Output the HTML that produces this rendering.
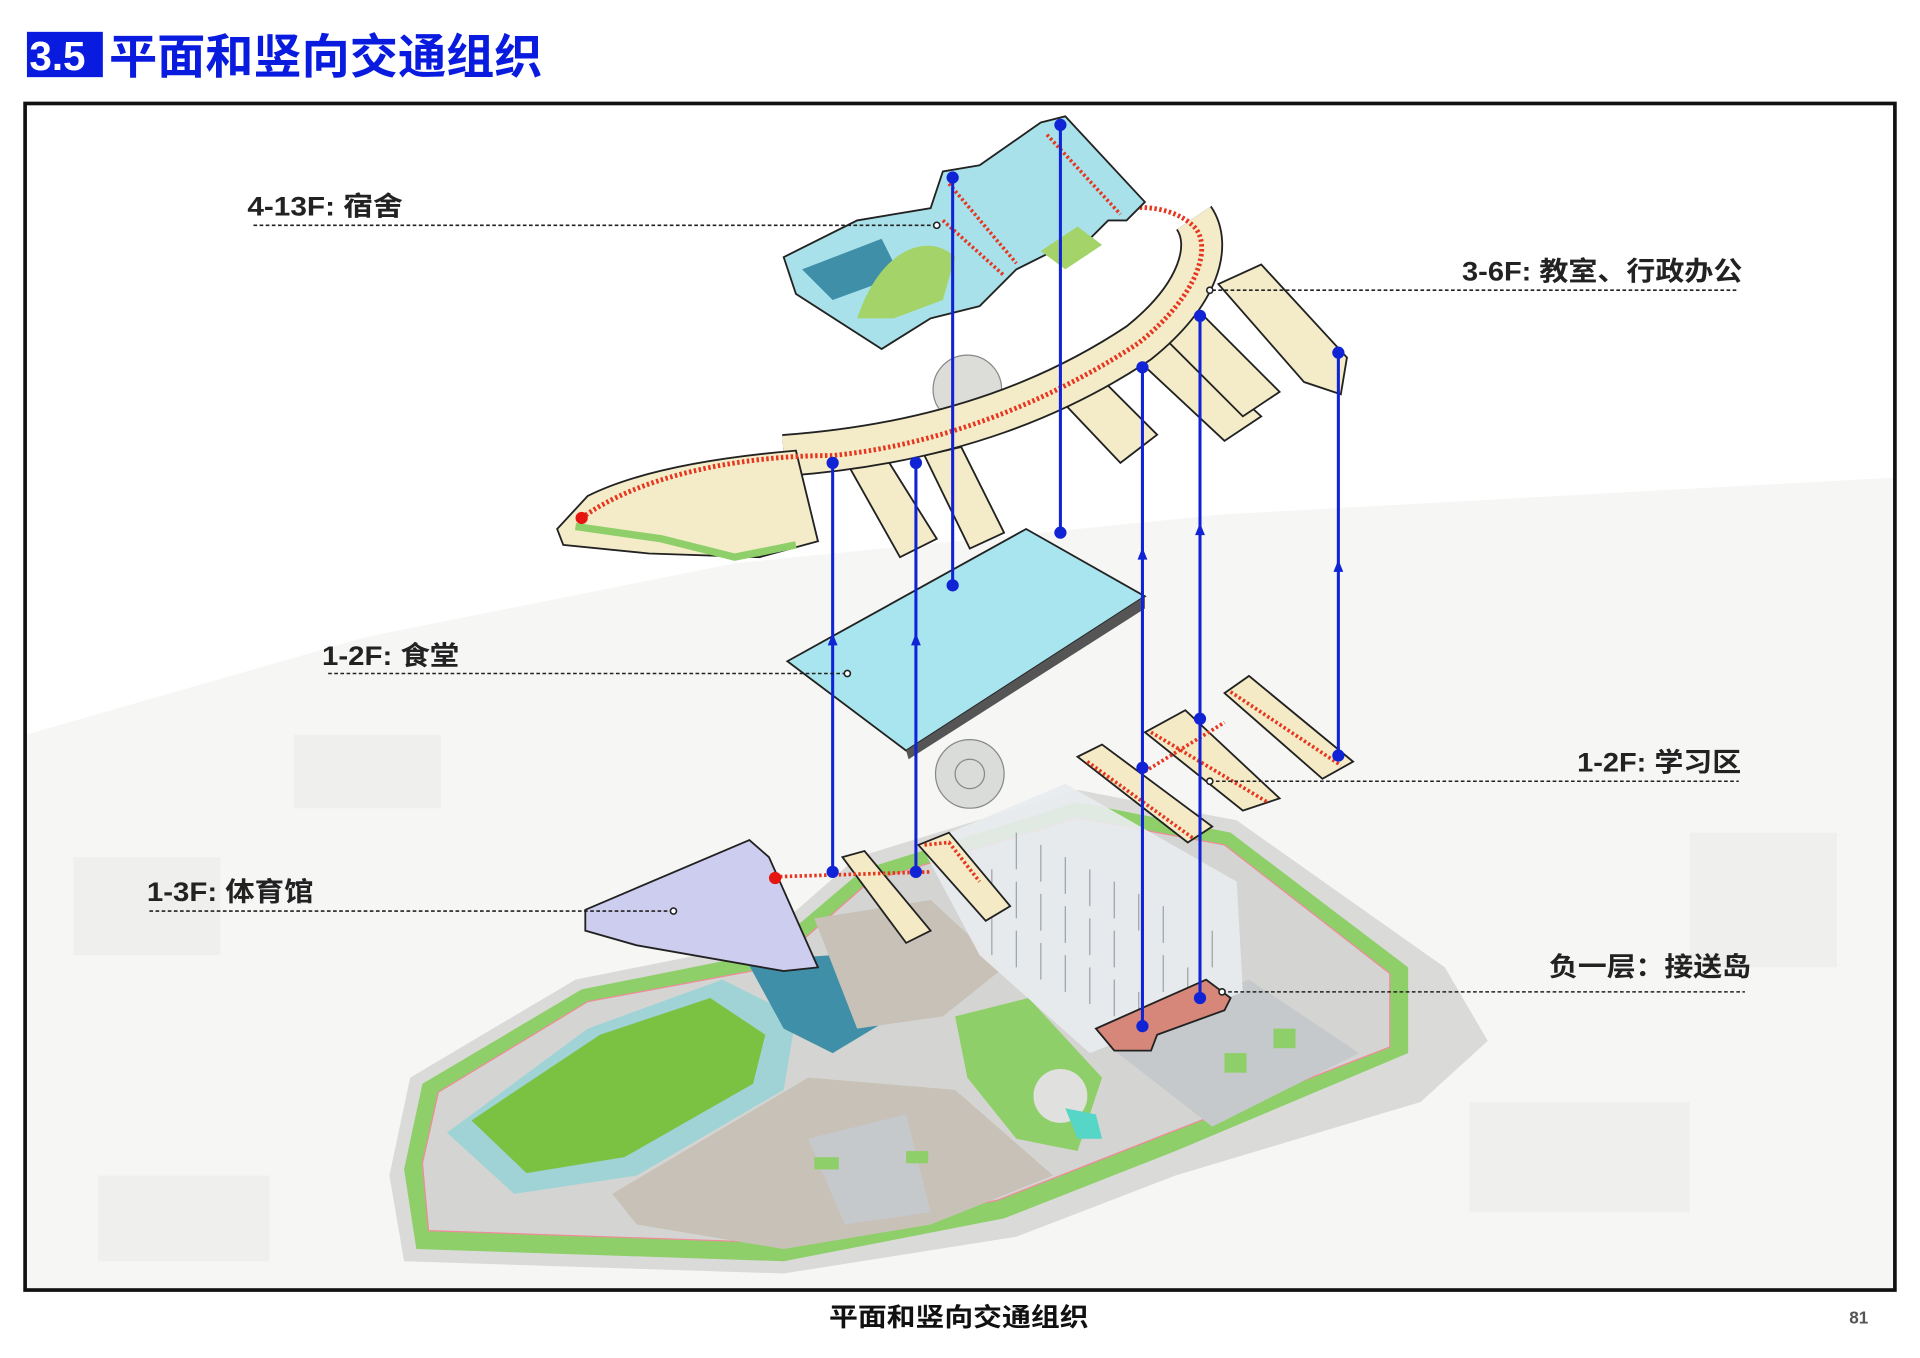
<!DOCTYPE html>
<html><head><meta charset="utf-8"><style>
html,body{margin:0;padding:0;background:#fff;}
svg{display:block;}
text{font-family:"Liberation Sans","Noto Sans CJK SC",sans-serif;font-weight:bold;}
</style></head><body>
<svg width="1920" height="1358" viewBox="0 0 1568 1109" preserveAspectRatio="none" xmlns="http://www.w3.org/2000/svg">
<rect width="1568" height="1109" fill="#fff"/>
<rect x="22" y="26" width="62" height="37" fill="#0a1be0"/>
<text x="24" y="57" font-size="33" fill="#fff">3.5</text>
<text x="89" y="60" font-size="39" fill="#0a1be0" font-family="Noto Sans CJK SC, sans-serif" textLength="354" lengthAdjust="spacingAndGlyphs">平面和竖向交通组织</text>
<rect x="21" y="85" width="1526" height="968" fill="#ffffff"/>
<path d="M21 600 L300 520 L600 460 L1000 420 L1547 390 L1547 1053 L21 1053Z" fill="#f6f6f5"/>
<g fill="#efefee">
<rect x="60" y="700" width="120" height="80"/><rect x="80" y="960" width="140" height="70"/><rect x="1200" y="900" width="180" height="90"/><rect x="1380" y="680" width="120" height="110"/><rect x="240" y="600" width="120" height="60"/>
</g>
<path d="M318 960 L335 880 L470 800 L620 770 L700 700 L880 645 L1010 670 L1180 790 L1215 850 L1160 900 L960 960 L830 1010 L640 1040 L330 1030Z" fill="#dadbd9"/>
<path d="M330 955 L345 885 L475 808 L625 778 L705 710 L880 655 L1005 680 L1150 790 L1150 860 L960 940 L820 995 L640 1030 L340 1020Z" fill="#8fcf6a"/>
<path d="M345 950 L358 892 L480 818 L630 790 L710 720 L880 668 L1000 690 L1135 795 L1135 855 L955 925 L815 980 L640 1015 L350 1005Z" fill="#d4d5d2" stroke="#f08a9a" stroke-width="1"/>
<path d="M365 925 L480 840 L590 800 L650 830 L640 890 L520 960 L420 975Z" fill="#9fd3d6"/>
<path d="M385 915 L490 845 L580 815 L625 845 L615 885 L510 945 L430 958Z" fill="#7cc242"/>
<path d="M610 785 L680 780 L730 830 L680 860 L640 840Z" fill="#3f8fa8"/>
<path d="M500 975 L660 880 L780 890 L860 960 L760 1000 L640 1020 L520 1000Z" fill="#c8c1b8"/>
<path d="M665 750 L760 735 L820 790 L770 830 L700 840Z" fill="#c8c1b8"/>
<path d="M780 830 L840 815 L900 880 L880 940 L830 930 L790 880Z" fill="#8fcf6a"/>
<circle cx="866" cy="895" r="22" fill="#e0e0de"/>
<path d="M870 905 L895 910 L900 930 L880 930Z" fill="#55d6c6"/>
<path d="M900 850 L1020 800 L1110 860 L990 920Z" fill="#c6c9cc"/>
<path d="M660 930 L740 910 L760 990 L690 1000Z" fill="#c6c9cc"/>
<g fill="#8fcf6a"><rect x="665" y="945" width="20" height="10"/><rect x="740" y="940" width="18" height="10"/><rect x="1000" y="860" width="18" height="16"/><rect x="1040" y="840" width="18" height="16"/></g>
<path d="M752 690 L870 640 L1010 720 L1015 810 L890 860 L800 780Z" fill="#e9ecef" opacity=".9"/>
<g stroke="#9aa3aa" stroke-width="1">
<path d="M790 700v30M810 710v30M830 720v30M850 730v30M870 740v30M890 750v30M910 760v30M830 680v30M850 690v30M870 700v30M890 710v30M910 720v30M930 730v30M950 740v30M810 750v30M830 760v30M850 770v30M870 780v30M890 790v30M910 800v30M930 810v30M950 780v30M970 790v30M990 760v30"/>
</g>
<path d="M895 840 L985 800 L1005 815 L1000 825 L945 845 L940 858 L910 858Z" fill="#d6877a" stroke="#222" stroke-width="1.5"/>
<path d="M478 743 L612 686 L628 700 L668 790 L640 793 L520 772 L478 760Z" fill="#cdcdf0" stroke="#222" stroke-width="1.5"/>
<g fill="#f4eac5" stroke="#222" stroke-width="1.5">
<path d="M688 700 L706 695 L760 760 L740 770Z"/>
<path d="M750 690 L775 680 L825 740 L805 752Z"/>
<path d="M880 618 L900 608 L990 675 L970 688Z"/>
<path d="M935 598 L968 580 L1045 652 L1015 662Z"/>
<path d="M1000 566 L1020 552 L1105 622 L1080 636Z"/>
</g>
<g stroke="#e6361f" stroke-width="3" stroke-dasharray="2 2" fill="none">
<path d="M633 716 L760 712"/><path d="M755 690 L775 688 L800 720"/>
<path d="M888 622 L975 685"/><path d="M940 598 L1035 655"/><path d="M1005 565 L1095 625"/><path d="M935 630 L1000 590"/>
</g>
<circle cx="633" cy="717" r="5" fill="#e6150f"/>
<circle cx="792" cy="632" r="28" fill="#d9dcd8" stroke="#888"/><circle cx="792" cy="632" r="12" fill="none" stroke="#888"/>
<path d="M643 540 L838 432 L935 487 L740 613Z" fill="#a9e5ef" stroke="#222" stroke-width="1.5"/>
<path d="M740 613 L935 487 L935 497 L742 620Z" fill="#555"/>
<!-- classrooms -->
<circle cx="790" cy="318" r="28" fill="#dcdcd8" stroke="#888"/>
<g fill="#f4ecc8" stroke="#222" stroke-width="1.5">
<path d="M690 375 L720 368 L765 440 L735 455Z"/>
<path d="M755 372 L785 365 L820 435 L792 448Z"/>
<path d="M860 320 L890 300 L945 355 L915 378Z"/>
<path d="M925 290 L955 272 L1030 340 L1000 360Z"/>
<path d="M940 265 L975 250 L1045 320 L1015 340Z"/>
<path d="M995 232 L1030 216 L1100 292 L1095 322 L1065 312Z"/>
</g>
<path d="M640 372 C780 362 870 320 930 280 C980 240 990 200 975 178" fill="none" stroke="#222" stroke-width="35"/>
<path d="M640 372 C780 362 870 320 930 280 C980 240 990 200 975 178" fill="none" stroke="#f4ecc8" stroke-width="32"/>
<path d="M455 432 L480 405 C520 385 580 374 650 368 L668 442 L620 455 L530 452 L460 445Z" fill="#f4ecc8" stroke="#222" stroke-width="1.5"/>
<path d="M470 430 L540 440 L600 455 L650 445" fill="none" stroke="#8fcf6a" stroke-width="6"/>
<path d="M475 423 C520 390 600 372 680 372 C780 362 870 320 930 280 C980 240 990 200 975 185 C960 170 935 168 920 170" fill="none" stroke="#e6361f" stroke-width="4" stroke-dasharray="2 2"/>
<circle cx="475" cy="423" r="5" fill="#e6150f"/>
<!-- dorm -->
<path d="M640 210 L700 180 L760 170 L770 140 L800 135 L850 100 L870 95 L935 165 L920 180 L905 180 L890 195 L860 205 L830 220 L800 250 L760 260 L720 285 L650 240Z" fill="#a9e1ea" stroke="#222" stroke-width="1.5"/>
<path d="M655 220 L720 195 L735 225 L680 245Z" fill="#3f8fa8"/>
<path d="M700 260 C720 200 760 190 780 210 L770 245 L730 260Z" fill="#a4d36a"/>
<path d="M850 205 L880 185 L900 200 L870 220Z" fill="#a4d36a"/>
<g stroke="#e6361f" stroke-width="3" stroke-dasharray="2 2" fill="none"><path d="M775 150 L830 215"/><path d="M855 110 L915 175"/><path d="M770 180 L820 225"/></g>
<g stroke="#1024d6" stroke-width="2.5">
<line x1="680" y1="378" x2="680" y2="712"/><line x1="748" y1="378" x2="748" y2="712"/>
<line x1="778" y1="145" x2="778" y2="478"/><line x1="866" y1="102" x2="866" y2="435"/>
<line x1="933" y1="300" x2="933" y2="838"/><line x1="980" y1="258" x2="980" y2="815"/>
<line x1="1093" y1="288" x2="1093" y2="617"/>
</g>
<g fill="#1024d6">
<circle cx="680" cy="378" r="5"/><circle cx="680" cy="712" r="5"/><circle cx="748" cy="378" r="5"/><circle cx="748" cy="712" r="5"/>
<circle cx="778" cy="145" r="5"/><circle cx="778" cy="478" r="5"/><circle cx="866" cy="102" r="5"/><circle cx="866" cy="435" r="5"/>
<circle cx="933" cy="300" r="5"/><circle cx="933" cy="838" r="5"/><circle cx="980" cy="258" r="5"/><circle cx="980" cy="815" r="5"/>
<circle cx="1093" cy="288" r="5"/><circle cx="1093" cy="617" r="5"/><circle cx="933" cy="627" r="5"/><circle cx="980" cy="587" r="5"/>
<path d="M680 517 l-4 10 h8z"/><path d="M748 517 l-4 10 h8z"/><path d="M933 447 l-4 10 h8z"/><path d="M980 427 l-4 10 h8z"/><path d="M1093 457 l-4 10 h8z"/>
</g>
<g stroke="#222" stroke-width="1.3" stroke-dasharray="3 2" fill="none">
<line x1="207" y1="184" x2="762" y2="184"/><line x1="990" y1="237" x2="1420" y2="237"/>
<line x1="268" y1="550" x2="690" y2="550"/><line x1="988" y1="638" x2="1420" y2="638"/>
<line x1="122" y1="744" x2="548" y2="744"/><line x1="998" y1="810" x2="1425" y2="810"/>
</g>
<g fill="#fff" stroke="#222" stroke-width="1.3"><circle cx="765" cy="184" r="2.5"/><circle cx="988" cy="237" r="2.5"/><circle cx="692" cy="550" r="2.5"/><circle cx="988" cy="638" r="2.5"/><circle cx="550" cy="744" r="2.5"/><circle cx="998" cy="810" r="2.5"/></g>
<g font-size="22" fill="#222">
<text x="202" y="176" textLength="127" lengthAdjust="spacingAndGlyphs">4-13F: 宿舍</text>
<text x="1194" y="229" textLength="229" lengthAdjust="spacingAndGlyphs">3-6F: 教室、行政办公</text>
<text x="263" y="543" textLength="112" lengthAdjust="spacingAndGlyphs">1-2F: 食堂</text>
<text x="1288" y="630" textLength="134" lengthAdjust="spacingAndGlyphs">1-2F: 学习区</text>
<text x="120" y="736" textLength="136" lengthAdjust="spacingAndGlyphs">1-3F: 体育馆</text>
<text x="1265" y="797" textLength="165" lengthAdjust="spacingAndGlyphs">负一层：接送岛</text>
</g>
<rect x="20.5" y="84.5" width="1527" height="969" fill="none" stroke="#111" stroke-width="3"/>
<text x="783" y="1083" font-size="21" fill="#111" text-anchor="middle" textLength="212" lengthAdjust="spacingAndGlyphs">平面和竖向交通组织</text>
<text x="1518" y="1081" font-size="14" fill="#555" font-weight="normal" text-anchor="middle">81</text>
</svg>
</body></html>
